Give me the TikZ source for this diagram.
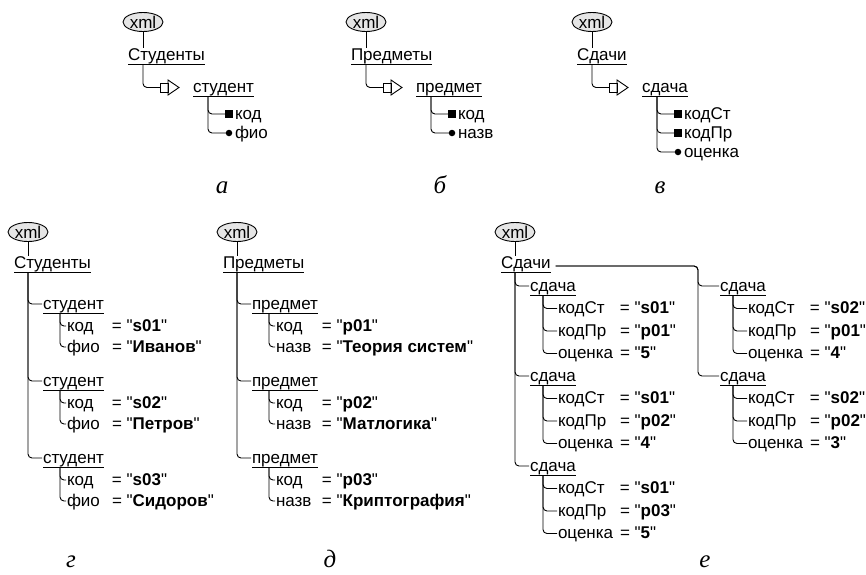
\documentclass[tikz,border=0pt]{standalone}
\usepackage{fontspec}
\setmainfont{Liberation Sans}[Ligatures=TeXOff]
\newfontfamily\capfont{Liberation Serif}
\usetikzlibrary{shapes.geometric,calc}
\newcommand\undl[1]{\setbox0\hbox{#1}\rlap{\vrule height -4pt depth 5pt width \wd0}\box0}
\newcommand\attr[3]{\makebox[#1][l]{#2}= "\textbf{#3}"}
\tikzset{
  every node/.style={inner sep=0pt, outer sep=0pt, font=\fontsize{17}{20}\selectfont},
  xmlnode/.style={ellipse, draw, line width=0.9pt, fill=black!10, minimum width=40pt, minimum height=19pt},
  txt/.style={anchor=base west},
  con/.style={draw, line width=0.9pt, rounded corners=4pt},
  sym/.style={draw, line width=0.9pt, line join=miter},
  keysq/.style={rectangle, fill=black, minimum size=7.5pt},
  optdot/.style={circle, fill=black, minimum size=6.5pt},
  captxt/.style={anchor=base, font=\capfont\itshape\fontsize{25}{28}\selectfont},
}
\begin{document}
\begin{tikzpicture}[x=1pt,y=-1pt]
\useasboundingbox (0,0) rectangle (866,574);

% ---------- top panels ----------
\foreach \p/\L/\root/\el in {a/143/Студенты/студент, b/366/Предметы/предмет, c/592/Сдачи/сдача} {
  \node[xmlnode] (x\p) at (\L,22) {xml};
  \node[txt] (r\p) at (\L-15,60) {\undl{\root}};
  \draw[con] (x\p.south) -- (x\p.south |- r\p.north);
  \coordinate (q\p) at (\L+17,87.5);
  \draw[con] (x\p.south |- r\p.south) |- (q\p);
  \draw[sym] ($(q\p)+(0,-4.5)$) rectangle ($(q\p)+(8,4.5)$);
  \draw[sym] ($(q\p)+(8,-7.5)$) -- ($(q\p)+(19,0)$) -- ($(q\p)+(8,7.5)$) -- cycle;
  \node[txt] (e\p) at (\L+50,92) {\undl{\el}};
}
% markers and attribute names
\foreach \p/\L/\n/\t/\s in {a/143/1/код/keysq, a/143/2/фио/optdot,
                            b/366/1/код/keysq, b/366/2/назв/optdot,
                            c/592/1/кодСт/keysq, c/592/2/кодПр/keysq, c/592/3/оценка/optdot} {
  \node[\s] (k\p\n) at (\L+86,95+19*\n) {};
  \node[txt] (t\p\n) at (\L+92,100.5+19*\n) {\t};
  \draw[con] ($(e\p.base west)+(15,5)$) |- (k\p\n.west);
}
\node[captxt] (capa) at (222,193) {а};
\node[captxt] (capb) at (440,193) {б};
\node[captxt] (capc) at (660,193) {в};

% ---------- panel g ----------
\node[xmlnode] (xg) at (28,232) {xml};
\node[txt] (rg) at (14,268) {\undl{Студенты}};
\draw[con] (xg.south) -- (xg.south |- rg.north);
\foreach \i/\B/\k/\n in {1/309/s01/Иванов, 2/386/s02/Петров, 3/463/s03/Сидоров} {
  \node[txt] (eg\i) at (43,\B) {\undl{студент}};
  \draw[con] (xg.south |- rg.south) |- ($(eg\i.base west)+(-1,-5)$);
  \node[txt] (ga\i) at (67,\B+22) {\attr{45pt}{код}{\k}};
  \node[txt] (gb\i) at (67,\B+43) {\attr{45pt}{фио}{\n}};
  \draw[con] ($(eg\i.base west)+(17,5)$) |- ($(ga\i.base west)+(-1,-5)$);
  \draw[con] ($(eg\i.base west)+(17,5)$) |- ($(gb\i.base west)+(-1,-5)$);
}
\node[captxt] (capg) at (71,567) {г};

% ---------- panel d ----------
\node[xmlnode] (xd) at (237,232) {xml};
\node[txt] (rd) at (223,268) {\undl{Предметы}};
\draw[con] (xd.south) -- (xd.south |- rd.north);
\foreach \i/\B/\k/\n in {1/309/p01/Теория систем, 2/386/p02/Матлогика, 3/463/p03/Криптография} {
  \node[txt] (ed\i) at (252,\B) {\undl{предмет}};
  \draw[con] (xd.south |- rd.south) |- ($(ed\i.base west)+(-1,-5)$);
  \node[txt] (da\i) at (276,\B+22) {\attr{46pt}{код}{\k}};
  \node[txt] (db\i) at (276,\B+43) {\attr{46pt}{назв}{\n}};
  \draw[con] ($(ed\i.base west)+(17,5)$) |- ($(da\i.base west)+(-1,-5)$);
  \draw[con] ($(ed\i.base west)+(17,5)$) |- ($(db\i.base west)+(-1,-5)$);
}
\node[captxt] (capd) at (330,567) {д};

% ---------- panel e ----------
\node[xmlnode] (xe) at (515,232) {xml};
\node[txt] (re) at (501,268) {\undl{Сдачи}};
\draw[con] (xe.south) -- (xe.south |- re.north);
\coordinate (rs) at ($(re.base east)+(5,-2)$);
\foreach \i/\B/\a/\b/\c in {1/291/s01/p01/5, 2/381/s01/p02/4, 3/471/s01/p03/5} {
  \node[txt] (el\i) at (530,\B) {\undl{сдача}};
  \draw[con] (xe.south |- re.south) |- ($(el\i.base west)+(-1,-5)$);
  \node[txt] (la\i) at (558,\B+22.5) {\attr{62pt}{кодСт}{\a}};
  \node[txt] (lb\i) at (558,\B+45) {\attr{62pt}{кодПр}{\b}};
  \node[txt] (lc\i) at (558,\B+67.5) {\attr{62pt}{оценка}{\c}};
  \foreach \r in {a,b,c} {
    \draw[con] ($(el\i.base west)+(13,5)$) |- ($(l\r\i.base west)+(-1,-5)$);
  }
}
\foreach \i/\B/\a/\b/\c in {1/291/s02/p01/4, 2/381/s02/p02/3} {
  \node[txt] (er\i) at (720,\B) {\undl{сдача}};
  \draw[con] (rs) -| ($(er\i.base west)+(-22,-5)$) -- ($(er\i.base west)+(-1,-5)$);
  \node[txt] (ma\i) at (748,\B+22.5) {\attr{62pt}{кодСт}{\a}};
  \node[txt] (mb\i) at (748,\B+45) {\attr{62pt}{кодПр}{\b}};
  \node[txt] (mc\i) at (748,\B+67.5) {\attr{62pt}{оценка}{\c}};
  \foreach \r in {a,b,c} {
    \draw[con] ($(er\i.base west)+(13,5)$) |- ($(m\r\i.base west)+(-1,-5)$);
  }
}
\node[captxt] (cape) at (705,567) {е};
\end{tikzpicture}
\end{document}
